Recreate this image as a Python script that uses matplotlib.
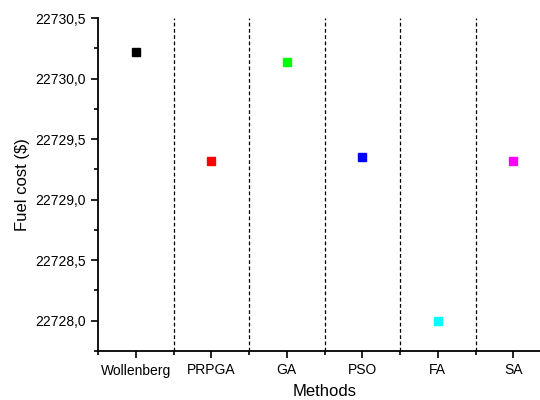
import matplotlib
matplotlib.use("Agg")

import matplotlib.pyplot as plt
from matplotlib.ticker import FuncFormatter, MultipleLocator, FixedLocator

plt.rcParams["font.family"] = ["Liberation Sans", "DejaVu Sans"]

# Data
methods = ["Wollenberg", "PRPGA", "GA", "PSO", "FA", "SA"]
fuel_cost = [22730.22, 22729.32, 22730.14, 22729.35, 22728.00, 22729.32]
colors = ["#000000", "#ff0000", "#00ff00", "#0000ff", "#00ffff", "#ff00ff"]

fig = plt.figure(figsize=(5.4, 4.0), dpi=100)
ax = fig.add_axes([98 / 540, 1 - 351 / 400, 453 / 540, 333 / 400])

x = list(range(len(methods)))
for xi, yi, c in zip(x, fuel_cost, colors):
    ax.plot(xi, yi, marker="s", markersize=5.5, color=c, linestyle="none")

# Dashed separators between methods
for b in range(len(methods) - 1):
    ax.axvline(b + 0.5, color="black", linestyle=(0, (3, 2)), linewidth=0.9)

ax.set_xlim(-0.5, len(methods) - 0.5)
ax.set_ylim(22727.75, 22730.5)

ax.set_xticks(x)
ax.set_xticklabels(methods)
ax.xaxis.set_minor_locator(FixedLocator([b + 0.5 for b in range(-1, len(methods))]))
ax.yaxis.set_major_locator(MultipleLocator(0.5))
ax.yaxis.set_minor_locator(MultipleLocator(0.25))
ax.yaxis.set_major_formatter(FuncFormatter(lambda v, p: f"{v:.1f}".replace(".", ",")))

ax.tick_params(axis="both", which="major", length=5, width=1.2, labelsize=10)
ax.tick_params(axis="both", which="minor", length=3, width=1.2)
ax.tick_params(axis="x", pad=4)

for side in ["top", "right"]:
    ax.spines[side].set_visible(False)
for side in ["left", "bottom"]:
    ax.spines[side].set_linewidth(1.3)

ax.set_xlabel("Methods", fontsize=12, labelpad=5)
ax.set_ylabel("Fuel cost ($)", fontsize=12, labelpad=4)

plt.savefig("out.png", dpi=100)
plt.close()
